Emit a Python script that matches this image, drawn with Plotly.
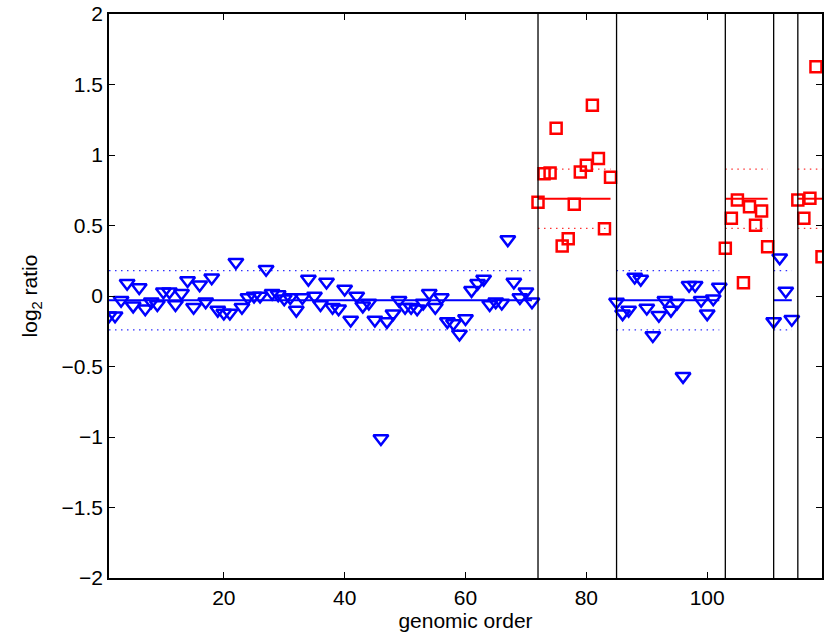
import plotly.graph_objects as go

# ---- data ----
positions = list(range(1, 120))  # genomic order 1..119

log2_ratio = [
    # 1-71 (state 0)
    -0.14, -0.14, -0.03, 0.09, -0.07, 0.06, -0.09, -0.04, -0.06, 0.03,
    0.03, -0.06, 0.02, 0.11, -0.08, 0.08, -0.04, 0.13, -0.10, -0.12,
    -0.12, 0.24, -0.08, -0.01, 0.00, 0.00, 0.19, 0.02, 0.01, -0.02,
    -0.01, -0.10, -0.01, 0.12, 0.00, -0.06, 0.10, -0.08, -0.09, 0.05,
    -0.17, 0.00, -0.07, -0.05, -0.17, -1.01, -0.18, -0.125, -0.03, -0.08,
    -0.08, -0.09, -0.05, 0.02, -0.08, -0.01, -0.18, -0.195, -0.27, -0.16,
    0.04, 0.09, 0.12, -0.06, -0.04, -0.05, 0.40, 0.10, -0.01, 0.03,
    -0.04,
    # 72-84 (state 1)
    0.665, 0.867, 0.872, 1.19, 0.355, 0.406, 0.65, 0.879, 0.927, 1.352,
    0.976, 0.477, 0.842,
    # 85-102 (state 0)
    -0.043, -0.125, -0.10, 0.135, 0.12, -0.085, -0.28, -0.137, -0.03, -0.10,
    -0.05, -0.57, 0.076, 0.076, -0.03, -0.125, -0.02, 0.064,
    # 103-110 (state 1)
    0.338, 0.551, 0.681, 0.094, 0.633, 0.501, 0.603, 0.350,
    # 111-114 (state 0)
    -0.18, 0.272, 0.035, -0.165,
    # 115-119 (state 1)
    0.681, 0.551, 0.693, 1.626, 0.279,
]

seg_start = [1, 72, 85, 103, 111, 115]
seg_end = [71, 84, 102, 110, 114, 119]
seg_state = [0, 1, 0, 1, 0, 1]

state_level = [-0.03, 0.69]
state_band = [0.21, 0.21]
state_color = ["#0000ff", "#ff0000"]
state_symbol = ["triangle-down-open", "square-open"]
state_size = [13, 11]

breakpoints = [72, 85, 103, 111, 115]

x_ticks = [20, 40, 60, 80, 100]
y_ticks = [-2, -1.5, -1, -0.5, 0, 0.5, 1, 1.5, 2]
y_tick_text = ["\u22122", "\u22121.5", "\u22121", "\u22120.5", "0", "0.5", "1", "1.5", "2"]

# ---- figure ----
fig = go.Figure()

# points by state
for st in (0, 1):
    xs, ys = [], []
    for s, e, sst in zip(seg_start, seg_end, seg_state):
        if sst != st:
            continue
        for p in range(s, e + 1):
            xs.append(p)
            ys.append(log2_ratio[p - 1])
    fig.add_trace(go.Scatter(
        x=xs, y=ys, mode="markers",
        marker=dict(symbol=state_symbol[st], size=state_size[st],
                    color=state_color[st], line=dict(width=2.5, color=state_color[st])),
        showlegend=False, hoverinfo="x+y", cliponaxis=True,
    ))

# segment level lines and bands
for s, e, st in zip(seg_start, seg_end, seg_state):
    lvl = state_level[st]
    b = state_band[st]
    c = state_color[st]
    fig.add_trace(go.Scatter(x=[s, e], y=[lvl, lvl], mode="lines",
                             line=dict(color=c, width=2), showlegend=False, hoverinfo="skip"))
    for yy in (lvl + b, lvl - b):
        fig.add_trace(go.Scatter(x=[s, e], y=[yy, yy], mode="lines",
                                 line=dict(color=c, width=1.2, dash="1.5px,4.5px"),
                                 opacity=0.8, showlegend=False, hoverinfo="skip"))

# breakpoint lines
for bp in breakpoints:
    fig.add_shape(type="line", xref="x", yref="paper", x0=bp, x1=bp, y0=0, y1=1,
                  line=dict(color="black", width=1.3))

font = dict(family="Liberation Sans, Arial, sans-serif", size=21, color="black")

fig.update_layout(
    width=826, height=636,
    margin=dict(l=109, r=2, t=14, b=58),
    paper_bgcolor="white", plot_bgcolor="white",
    font=font,
    showlegend=False,
    xaxis=dict(
        range=[1, 119], tickvals=x_ticks, ticks="inside", ticklen=6, tickwidth=1,
        tickcolor="black", showline=True, linecolor="black", linewidth=1.5,
        mirror="ticks", showgrid=False, zeroline=False,
        title=dict(text="genomic order", font=font, standoff=0),
        tickfont=font,
    ),
    yaxis=dict(
        range=[-2, 2], tickvals=y_ticks, ticktext=y_tick_text, ticks="inside",
        ticklen=6, tickwidth=1, tickcolor="black", showline=True, linecolor="black",
        linewidth=1.5, mirror="ticks", showgrid=False, zeroline=False,
        title=dict(text="log<sub>2</sub> ratio", font=font, standoff=18),
        tickfont=font,
    ),
)

fig.write_html("out.html")
